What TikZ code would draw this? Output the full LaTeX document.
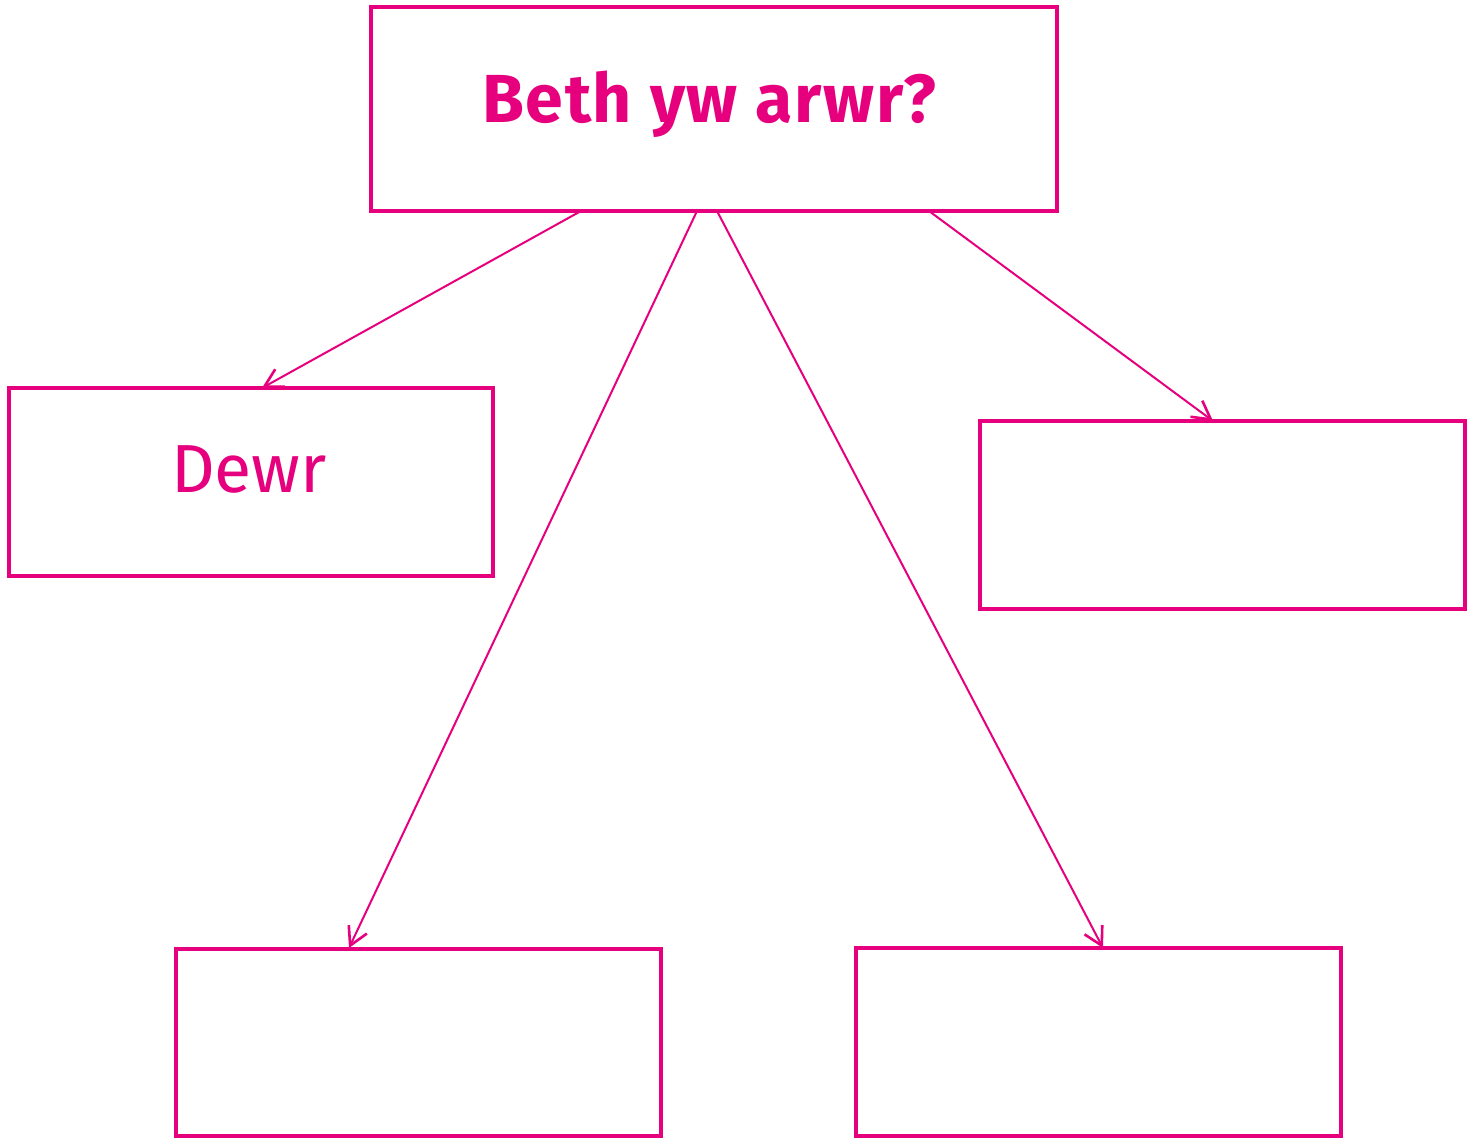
\documentclass[tikz,border=0pt]{standalone}
\usepackage{fontspec}
\setmainfont{Fira Sans}
\usetikzlibrary{arrows.meta}
\definecolor{mag}{RGB}{230,0,126}
\begin{document}
\begin{tikzpicture}[x=1pt,y=-1pt,
  box/.style={draw=mag,line width=4pt,line join=miter},
  conn/.style={draw=mag,line width=2pt,-{Straight Barb[length=18pt,width=20pt,line width=2.6pt]}},
  lbl/.style={text=mag,font=\fontsize{68}{80}\selectfont,inner sep=0pt}]
\useasboundingbox (0,0) rectangle (1475,1138);
\draw[box] (371,7) rectangle (1057,211);
\draw[box] (9,388) rectangle (493,576);
\draw[box] (980,421) rectangle (1465,609);
\draw[box] (176,949) rectangle (661,1136);
\draw[box] (856,948) rectangle (1341,1136);
\node[lbl,font=\addfontfeatures{LetterSpace=2.5}\fontsize{68}{80}\selectfont\bfseries] (title) at (709,104) {Beth yw arwr?};
\node[lbl] (dewr) at (249,469) {Dewr};
\coordinate (s1) at (581,211);
\coordinate (s2) at (697,211);
\coordinate (s3) at (717,211);
\coordinate (s4) at (929,211);
\coordinate (e1) at (262,388);
\coordinate (e2) at (349,948);
\coordinate (e3) at (1103,948);
\coordinate (e4) at (1213,421);
\draw[conn] (s1) -- (e1);
\draw[conn] (s2) -- (e2);
\draw[conn] (s3) -- (e3);
\draw[conn] (s4) -- (e4);
\end{tikzpicture}
\end{document}
